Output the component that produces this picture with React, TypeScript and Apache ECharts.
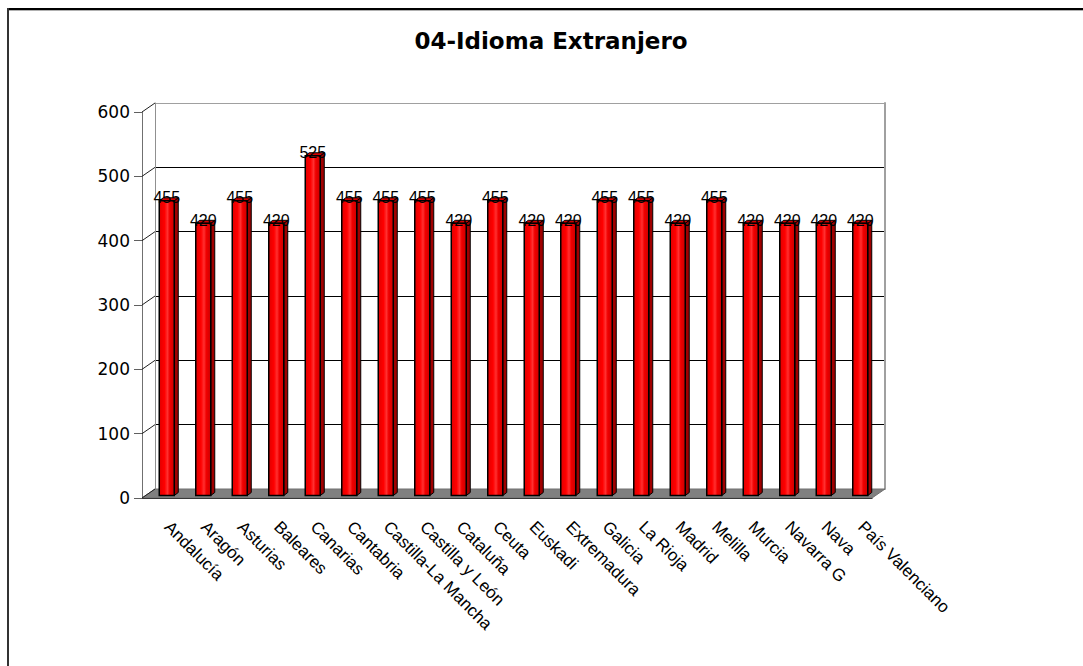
import React, { useEffect, useRef } from 'react';
import * as echarts from 'echarts';

const chartTitle = '04-Idioma Extranjero';
const categories = [
  'Andalucía', 'Aragón', 'Asturias', 'Baleares', 'Canarias', 'Cantabria',
  'Castilla-La Mancha', 'Castilla y León', 'Cataluña', 'Ceuta', 'Euskadi',
  'Extremadura', 'Galicia', 'La Rioja', 'Madrid', 'Melilla', 'Murcia',
  'Navarra G', 'Nava', 'País Valenciano',
];
const values = [455, 420, 455, 420, 525, 455, 455, 455, 420, 455, 420, 420, 455, 455, 420, 455, 420, 420, 420, 420];
const yTicks = [0, 100, 200, 300, 400, 500, 600];

const DX = 13;
const DY = -9;

export default function App() {
  const ref = useRef<HTMLDivElement>(null);
  useEffect(() => {
    document.body.style.margin = '0';
    const chart = echarts.init(ref.current!, null, { renderer: 'svg' });
    const frontFill = new echarts.graphic.LinearGradient(0, 0, 1, 0, [
      { offset: 0, color: '#e00000' },
      { offset: 0.35, color: '#ff0000' },
      { offset: 0.55, color: '#ff3030' },
      { offset: 0.7, color: '#f00000' },
      { offset: 1, color: '#cc0000' },
    ]);
    chart.setOption({
      animation: false,
      backgroundColor: '#fff',
      graphic: [
        { type: 'line', shape: { x1: 8, y1: 9, x2: 1083, y2: 9 }, style: { stroke: '#000', lineWidth: 2 } },
        { type: 'line', shape: { x1: 8, y1: 10.5, x2: 1083, y2: 10.5 }, style: { stroke: '#b0b0b0', lineWidth: 1 } },
        { type: 'line', shape: { x1: 8, y1: 8, x2: 8, y2: 666 }, style: { stroke: '#333', lineWidth: 2 } },
        {
          type: 'text',
          style: {
            text: chartTitle, x: 551, y: 41, align: 'center', verticalAlign: 'middle',
            font: 'bold 23px "DejaVu Sans"', fill: '#000',
          },
        },
      ],
      grid: [
        { left: 142 + DX, top: 112 + DY, width: 730, height: 386 },
        { left: 142, top: 112, width: 730, height: 386 },
      ],
      xAxis: [
        { type: 'category', gridIndex: 0, data: categories, show: false },
        {
          type: 'category', gridIndex: 1, data: categories,
          axisLine: { lineStyle: { color: '#000', width: 1 } },
          axisTick: { length: 8, lineStyle: { color: '#808080' } },
          axisLabel: {
            rotate: -45, interval: 0, margin: 19, color: '#000',
            fontFamily: 'Liberation Sans', fontSize: 17, padding: [0, 0, 0, 10],
          },
        },
      ],
      yAxis: [
        {
          type: 'value', gridIndex: 0, min: 0, max: 600, interval: 100,
          axisLabel: { show: false }, axisTick: { show: false },
          axisLine: { show: true, lineStyle: { color: '#909090' } },
          splitLine: { show: true, lineStyle: { color: ['#000', '#000', '#000', '#000', '#000', '#000', '#a0a0a0'] } },
        },
        {
          type: 'value', gridIndex: 0, position: 'right', min: 0, max: 600, interval: 100,
          axisLabel: { show: false }, axisTick: { show: false },
          axisLine: { show: true, lineStyle: { color: '#a0a0a0', width: 2 } },
          splitLine: { show: false },
        },
        {
          type: 'value', gridIndex: 1, min: 0, max: 600, interval: 100,
          axisLabel: { color: '#000', fontFamily: 'DejaVu Sans', fontSize: 17, margin: 12 },
          axisTick: { show: true, length: 8, lineStyle: { color: '#606060' } },
          axisLine: { show: true, lineStyle: { color: '#707070' } },
          splitLine: { show: false },
        },
      ],
      series: [
        {
          type: 'custom', xAxisIndex: 1, yAxisIndex: 2, z: 1,
          data: [[0, 0]],
          renderItem: (params: any, api: any) => {
            const cs = params.coordSys;
            const y0 = api.coord([0, 0])[1];
            return {
              type: 'polygon',
              shape: {
                points: [
                  [cs.x, y0], [cs.x + cs.width, y0],
                  [cs.x + cs.width + DX, y0 + DY], [cs.x + DX, y0 + DY],
                ],
              },
              style: { fill: '#808080', stroke: '#707070', lineWidth: 1 },
            };
          },
        },
        {
          type: 'custom', xAxisIndex: 1, yAxisIndex: 2, z: 2,
          data: yTicks.map((v) => [0, v]),
          renderItem: (params: any, api: any) => {
            const cs = params.coordSys;
            const y = api.coord([0, api.value(1)])[1];
            return {
              type: 'line',
              shape: { x1: cs.x, y1: y, x2: cs.x + DX, y2: y + DY },
              style: { stroke: '#202020', lineWidth: 1 },
            };
          },
        },
        {
          type: 'custom', xAxisIndex: 1, yAxisIndex: 2, z: 3,
          data: values.map((v, i) => [i, v]),
          renderItem: (params: any, api: any) => {
            const v = api.value(1);
            const top = api.coord([api.value(0), v]);
            const base = api.coord([api.value(0), 0]);
            const w = 15;
            const sd = 4;
            const sdy = -3;
            const x0 = top[0] + DX / 2 - w / 2;
            const yT = top[1] + DY / 2;
            const yB = base[1] + DY / 2 + 2;
            return {
              type: 'group',
              children: [
                {
                  type: 'polygon',
                  shape: { points: [[x0 + w, yT], [x0 + w + sd, yT + sdy], [x0 + w + sd, yB + sdy], [x0 + w, yB]] },
                  style: { fill: '#a00000', stroke: '#000', lineWidth: 1 },
                },
                {
                  type: 'polygon',
                  shape: { points: [[x0, yT], [x0 + sd, yT + sdy], [x0 + w + sd, yT + sdy], [x0 + w, yT]] },
                  style: { fill: '#d00000', stroke: '#000', lineWidth: 1 },
                },
                {
                  type: 'rect',
                  shape: { x: x0, y: yT, width: w, height: yB - yT },
                  style: { fill: frontFill, stroke: '#000', lineWidth: 1.5 },
                },
                {
                  type: 'text',
                  z2: 10,
                  style: {
                    text: String(v), x: x0 + w / 2, y: yT - 3,
                    align: 'center', verticalAlign: 'middle',
                    font: '16px "Liberation Sans"', fill: '#000',
                  },
                },
              ],
            };
          },
        },
      ],
    });
    return () => chart.dispose();
  }, []);
  return <div ref={ref} style={{ width: 1083, height: 666 }} />;
}
